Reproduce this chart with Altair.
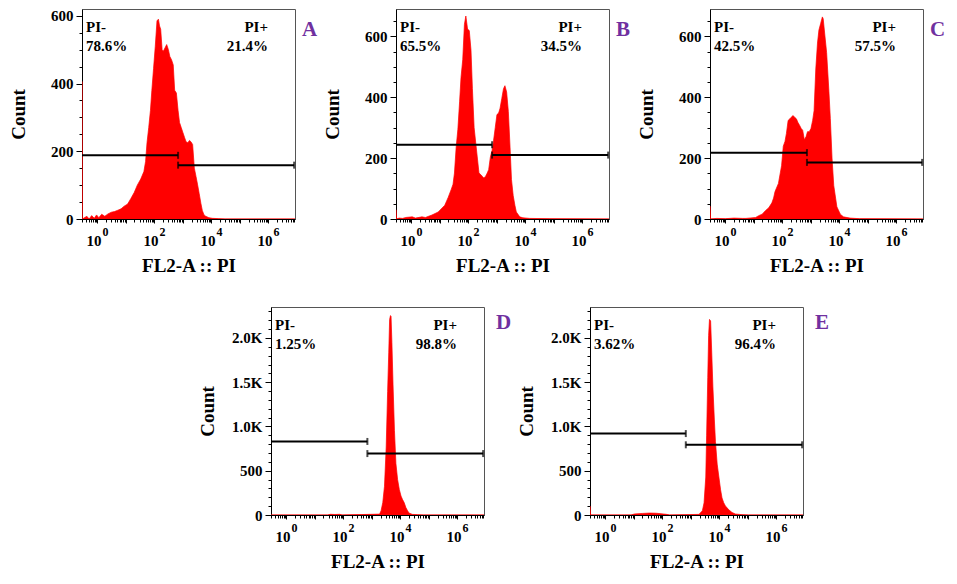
import altair as alt
import pandas as pd
import math

# ---------------- data (x in log10 units of FL2-A, y = count) ----------------
HIST_A = [(-0.54, 406), (-0.53, 0), (-0.37, 8), (-0.29, 0), (-0.20, 10), (-0.11, 2), (-0.03, 12),
          (0.05, 4), (0.15, 14), (0.26, 8), (0.37, 15), (0.49, 20), (0.60, 22), (0.72, 26), (0.83, 30),
          (0.94, 38), (1.06, 44), (1.17, 60), (1.29, 78), (1.40, 100), (1.52, 118), (1.63, 140),
          (1.69, 170), (1.74, 225), (1.80, 270), (1.86, 320), (1.91, 380), (1.97, 445), (2.03, 510),
          (2.09, 585), (2.14, 590), (2.18, 570), (2.22, 560), (2.27, 500), (2.31, 495), (2.37, 505),
          (2.43, 515), (2.49, 500), (2.54, 480), (2.60, 470), (2.66, 455), (2.71, 380), (2.77, 372),
          (2.83, 320), (2.88, 285), (2.94, 270), (3.00, 255), (3.06, 240), (3.11, 228), (3.17, 225),
          (3.23, 232), (3.28, 228), (3.34, 220), (3.40, 150), (3.46, 125), (3.51, 103), (3.57, 75),
          (3.63, 46), (3.68, 25), (3.74, 12), (3.80, 8), (3.91, 4), (4.03, 2), (4.26, 1), (4.48, 0),
          (6.93, 0)]

HIST_B = [(-0.54, 30), (-0.52, 0), (-0.43, 3), (-0.31, 2), (-0.20, 5), (0.03, 7), (0.14, 3), (0.37, 7),
          (0.49, 5), (0.72, 13), (0.94, 23), (1.17, 45), (1.29, 71), (1.40, 98), (1.46, 114), (1.51, 151),
          (1.57, 236), (1.63, 295), (1.69, 385), (1.74, 465), (1.80, 523), (1.86, 640), (1.91, 667),
          (1.97, 624), (2.03, 619), (2.09, 555), (2.14, 428), (2.20, 300), (2.26, 247), (2.31, 204),
          (2.37, 151), (2.43, 146), (2.49, 140), (2.54, 135), (2.60, 140), (2.66, 151), (2.71, 162),
          (2.77, 204), (2.83, 225), (2.88, 257), (2.94, 300), (3.00, 343), (3.06, 348), (3.11, 364),
          (3.17, 396), (3.23, 428), (3.28, 438), (3.34, 417), (3.40, 353), (3.46, 236), (3.51, 130),
          (3.57, 77), (3.63, 45), (3.68, 23), (3.80, 7), (3.91, 4), (4.14, 2), (4.83, 1), (6.93, 0)]

HIST_C = [(-0.54, 42), (-0.52, 0), (-0.30, 2), (0.00, 1), (0.30, 3), (0.60, 2), (0.72, 2), (1.06, 5),
          (1.17, 11), (1.29, 16), (1.40, 27), (1.52, 37), (1.63, 53), (1.69, 69), (1.74, 90), (1.86, 117),
          (1.97, 175), (2.03, 239), (2.09, 255), (2.14, 281), (2.20, 324), (2.26, 329), (2.31, 334),
          (2.37, 340), (2.43, 334), (2.49, 329), (2.54, 318), (2.60, 308), (2.66, 297), (2.71, 292),
          (2.77, 260), (2.83, 271), (2.88, 287), (2.94, 287), (3.00, 297), (3.06, 324), (3.11, 356),
          (3.17, 493), (3.23, 578), (3.28, 621), (3.34, 642), (3.40, 664), (3.43, 658), (3.48, 611),
          (3.55, 547), (3.63, 420), (3.68, 330), (3.74, 200), (3.80, 110), (3.91, 40), (4.03, 16),
          (4.14, 7), (4.37, 3), (4.71, 1), (6.93, 0)]

HIST_D = [(-0.54, 0), (1.45, 0), (1.54, 8), (1.70, 6), (1.88, 8), (1.95, 0), (3.27, 10), (3.32, 48),
          (3.38, 140), (3.44, 325), (3.50, 768), (3.55, 1396), (3.59, 1840), (3.62, 2209), (3.65, 2253),
          (3.67, 2245), (3.70, 1950), (3.74, 1470), (3.79, 953), (3.84, 584), (3.90, 400), (3.96, 288),
          (4.02, 214), (4.07, 177), (4.13, 140), (4.19, 85), (4.25, 48), (4.30, 22), (4.42, 7),
          (4.59, 4), (4.82, 0), (6.93, 0)]

HIST_E = [(-0.54, 100), (-0.52, 0), (0.90, 0), (1.02, 12), (1.31, 18), (1.55, 22), (1.78, 20), (2.13, 8),
          (2.25, 0), (3.28, 7), (3.40, 47), (3.46, 138), (3.52, 429), (3.55, 902), (3.59, 1556),
          (3.62, 2029), (3.65, 2210), (3.69, 2193), (3.72, 1920), (3.77, 1447), (3.82, 1084),
          (3.86, 829), (3.92, 575), (3.98, 429), (4.04, 284), (4.09, 193), (4.15, 138), (4.21, 102),
          (4.33, 58), (4.44, 29), (4.56, 11), (4.79, 4), (5.02, 0), (6.93, 0)]

# gates: (start, boundary, end, y_left_gate, y_right_gate)
GATES = {
    "A": (-0.54, 2.83, 6.90, 188, 159),
    "B": (-0.54, 2.83, 6.90, 244, 210),
    "C": (-0.54, 2.86, 6.90, 218, 186),
    "D": (-0.54, 2.84, 6.90, 831, 694),
    "E": (-0.54, 2.82, 6.90, 920, 793),
}
PCT = {
    "A": ("78.6%", "21.4%"),
    "B": ("65.5%", "34.5%"),
    "C": ("42.5%", "57.5%"),
    "D": ("1.25%", "98.8%"),
    "E": ("3.62%", "96.4%"),
}
YMAX = {"A": 620, "B": 690, "C": 690, "D": 2350, "E": 2350}

X_DOMAIN = [-0.54, 6.93]
DECADE_LABELS = [0, 2, 4, 6]
EXPONENTS = ["0", "2", "4", "6"]

FONT = "Liberation Serif"
RED = "#ff0000"
PURPLE = "#7030a0"

# tick positions on the log axis (major decades + minor 2..9)
x_ticks = []
for n in range(-1, 7):
    if X_DOMAIN[0] <= n <= X_DOMAIN[1]:
        x_ticks.append(n)
    for k in range(2, 10):
        v = round(n + math.log10(k), 4)
        if X_DOMAIN[0] <= v <= X_DOMAIN[1]:
            x_ticks.append(v)


def panel(key, hist, w, h, big, title_x, letter_dx, letter_y):
    ymax = YMAX[key]
    if big:
        y_ticks = [v for v in range(0, 2400, 100) if v <= ymax]
        y_label = ("datum.value % 500 == 0 ? (datum.value >= 1000 ? format(datum.value / 1000, '.1f') + 'K' "
                   ": '' + datum.value) : ''")
        y_major = "datum.value % 500 == 0"
    else:
        y_ticks = [v for v in range(0, 700, 50) if v <= ymax]
        y_label = "datum.value % 200 == 0 ? '' + datum.value : ''"
        y_major = "datum.value % 200 == 0"

    xscale = alt.Scale(domain=X_DOMAIN, nice=False, zero=False)
    yscale = alt.Scale(domain=[0, ymax], nice=False)
    xaxis = alt.Axis(
        values=x_ticks, title="FL2-A :: PI", grid=False,
        labelExpr="(datum.value == 0 || datum.value == 2 || datum.value == 4 || datum.value == 6) ? '10' : ''",
        labelOverlap=False, labelFontSize=15, labelBaseline="alphabetic", labelPadding=22,
        labelOffset=-4,
        tickSize={"condition": {"test": "datum.value == floor(datum.value)", "value": 4}, "value": 3},
        titleFontSize=19, titleX=w / 2, titleY=52, titleBaseline="alphabetic", titleAnchor="middle")
    yaxis = alt.Axis(
        values=y_ticks, title="Count", grid=False, labelExpr=y_label, labelOverlap=False,
        labelFontSize=15, labelPadding=3,
        tickSize={"condition": {"test": y_major, "value": 6}, "value": 3},
        titleFontSize=19, titleX=title_x, titleY=h / 2, titleAngle=270,
        titleBaseline="alphabetic", titleAlign="center")

    hist_df = pd.DataFrame(hist, columns=["fl2", "count"])
    area = alt.Chart(hist_df).mark_area(color=RED, stroke=RED, strokeWidth=0.7, clip=True).encode(
        x=alt.X("fl2:Q", scale=xscale, axis=xaxis),
        y=alt.Y("count:Q", scale=yscale, axis=yaxis),
    )

    s, b, e, yl, yr = GATES[key]
    gate_df = pd.DataFrame({"fl2": [s, b], "fl2_end": [b, e], "count": [yl, yr]})
    gate = alt.Chart(gate_df).mark_rule(color="black", strokeWidth=2).encode(
        x=alt.X("fl2:Q", scale=xscale, axis=xaxis), x2="fl2_end:Q",
        y=alt.Y("count:Q", scale=yscale, axis=yaxis))
    cap_df = pd.DataFrame({"fl2": [b, b, e], "count": [yl, yr, yr]})
    caps = alt.Chart(cap_df).mark_tick(color="black", orient="vertical", size=7, thickness=2).encode(
        x=alt.X("fl2:Q", scale=xscale, axis=xaxis), y=alt.Y("count:Q", scale=yscale, axis=yaxis))

    exp_df = pd.DataFrame({"fl2": DECADE_LABELS, "e": EXPONENTS})
    exps = alt.Chart(exp_df).mark_text(font=FONT, fontWeight="bold", fontSize=12, dx=8,
                                       baseline="alphabetic", align="center", color="black").encode(
        x=alt.X("fl2:Q", scale=xscale, axis=xaxis), y=alt.value(h + 17), text="e:N")

    one = pd.DataFrame({"k": [0]})
    neg, pos = PCT[key]

    def txt(t, x, y, align, size=15, color="black"):
        return alt.Chart(one).mark_text(
            text=t, font=FONT, fontWeight="bold", fontSize=size, align=align, baseline="alphabetic",
            color=color).encode(x=alt.value(x), y=alt.value(y))

    texts = [
        txt("PI-", 4, 23, "left"), txt(neg, 4, 42, "left"),
        txt("PI+", w - 27, 23, "right"), txt(pos, w - 27, 42, "right"),
        txt(key, w + letter_dx, letter_y, "left", 21, PURPLE),
    ]
    return alt.layer(area, gate, caps, exps, *texts).properties(width=w, height=h)


W1, H1 = 213, 210
W2, H2 = 213, 208

pa = panel("A", HIST_A, W1, H1, False, -58, 7, 27)
pb = panel("B", HIST_B, W1, H1, False, -58, 7, 27)
pc = panel("C", HIST_C, W1, H1, False, -58, 7, 27)
pd_ = panel("D", HIST_D, W2, H2, True, -58, 12, 22)
pe = panel("E", HIST_E, W2, H2, True, -58, 12, 22)

spacer = alt.Chart(pd.DataFrame({"k": [0]})).mark_point(opacity=0).encode(
    x=alt.value(0), y=alt.value(0)).properties(width=83, height=10,
                                                view=alt.ViewBackground(strokeOpacity=0))

row1 = alt.hconcat(pa, pb, pc, spacing=101, bounds="flush")
row2 = alt.hconcat(spacer, pd_, pe, spacing=106, bounds="flush")

chart = alt.vconcat(row1, row2, spacing=27).properties(
    padding={"left": 0, "top": 0, "right": 0, "bottom": 0}
).configure(background="white").configure_view(stroke="#555555", strokeWidth=1).configure_axis(
    labelFont=FONT, titleFont=FONT, labelFontWeight="bold", titleFontWeight="bold",
    labelColor="black", titleColor="black", domainColor="black", tickColor="black",
    domainWidth=1, tickWidth=1, labelOverlap=False, labelBound=False, labelFlush=False)

chart.save("out.html", embed_options={"renderer": "svg", "actions": False})
